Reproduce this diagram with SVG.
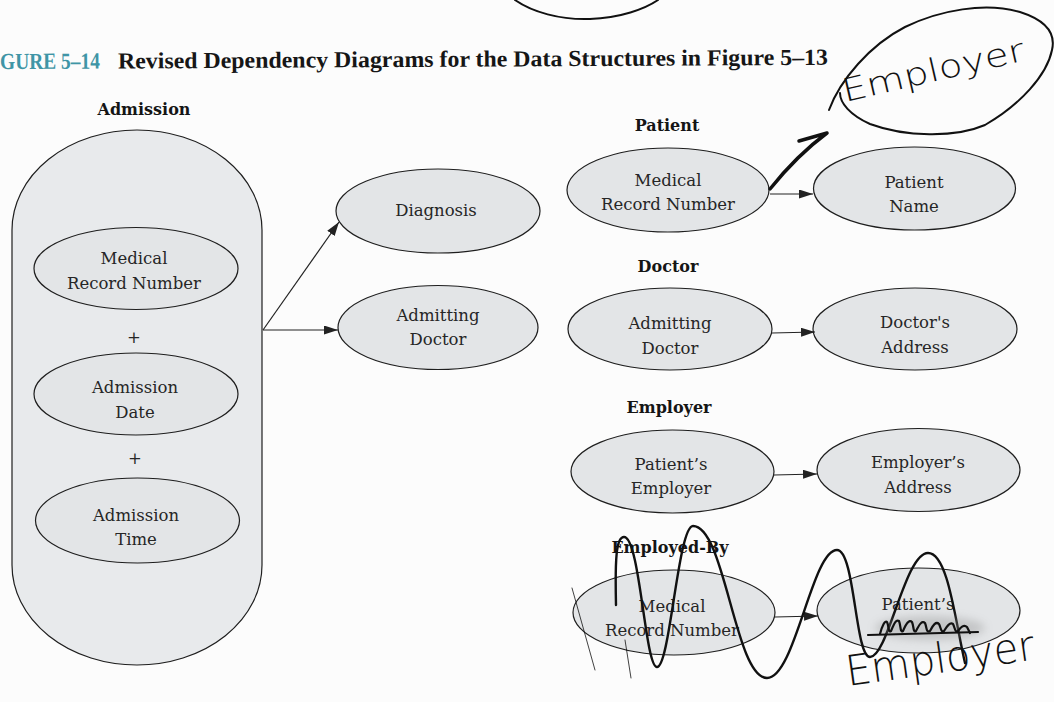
<svg xmlns="http://www.w3.org/2000/svg" width="1054" height="702" viewBox="0 0 1054 702">
  <defs>
    <style>
      .node { fill: #e3e5e7; stroke: #1e1e1e; stroke-width: 1.2; }
      .box { fill: #e8eaec; stroke: #1e1e1e; stroke-width: 1.2; }
      .t { font-family: "DejaVu Serif", "Liberation Serif", serif; font-size: 16.5px; fill: #262626; text-anchor: middle; }
      .lbl { font-family: "DejaVu Serif", "Liberation Serif", serif; font-size: 16px; font-weight: bold; fill: #151515; text-anchor: middle; }
      .title { font-family: "Liberation Serif", "DejaVu Serif", serif; font-size: 23px; font-weight: bold; fill: #161616; }
      .fig { fill: #3f95a6; }
      .edge { fill: none; stroke: #222; stroke-width: 1.2; }
      .ink { fill: none; stroke: #111; stroke-linecap: round; stroke-linejoin: round; }
      .hand { font-family: "DejaVu Sans", "Liberation Sans", sans-serif; font-weight: 200; fill: #111; }
    </style>
    <marker id="arrow" markerUnits="userSpaceOnUse" markerWidth="15" markerHeight="10" refX="14" refY="4.5" orient="auto">
      <path d="M0,0 L14,4.5 L0,9 z" fill="#222"/>
    </marker>
    <filter id="smudge" x="-30%" y="-80%" width="160%" height="260%">
      <feGaussianBlur stdDeviation="4"/>
    </filter>
  </defs>

  <rect width="1054" height="702" fill="#fcfcfc"/>

  <!-- caption -->
  <g id="caption">
    <text class="title" x="0" y="67" transform="rotate(-0.3 400 67)"><tspan class="fig" x="0" textLength="100" lengthAdjust="spacingAndGlyphs">GURE 5–14</tspan><tspan x="118" textLength="710" lengthAdjust="spacingAndGlyphs">Revised Dependency Diagrams for the Data Structures in Figure 5–13</tspan></text>
  </g>

  <!-- Admission: composite key -->
  <g id="admission">
    <text class="lbl" x="144" y="115">Admission</text>
    <path class="box" d="M12,230 A125,100 0 0 1 262,230 L262,565 A125,100 0 0 1 12,565 Z"/>
    <g id="adm-mrn">
      <ellipse class="node" cx="136" cy="268.5" rx="102" ry="41"/>
      <text class="t" x="134" y="264">Medical</text>
      <text class="t" x="134" y="289">Record Number</text>
    </g>
    <text class="t" x="134" y="343">+</text>
    <g id="adm-date">
      <ellipse class="node" cx="136" cy="394" rx="102" ry="41"/>
      <text class="t" x="135" y="393">Admission</text>
      <text class="t" x="135" y="418">Date</text>
    </g>
    <text class="t" x="135" y="464">+</text>
    <g id="adm-time">
      <ellipse class="node" cx="137.5" cy="520.5" rx="102" ry="42.5"/>
      <text class="t" x="136" y="521">Admission</text>
      <text class="t" x="136" y="545">Time</text>
    </g>
  </g>

  <g id="diagnosis">
    <ellipse class="node" cx="438" cy="211" rx="102" ry="42"/>
    <text class="t" x="436" y="216">Diagnosis</text>
  </g>

  <g id="adm-doctor">
    <ellipse class="node" cx="438" cy="327.5" rx="100" ry="42"/>
    <text class="t" x="438" y="321">Admitting</text>
    <text class="t" x="438" y="345">Doctor</text>
  </g>

  <!-- Patient -->
  <g id="patient">
    <text class="lbl" x="667" y="131">Patient</text>
    <g id="pat-mrn">
      <ellipse class="node" cx="668" cy="190" rx="101" ry="42"/>
      <text class="t" x="668" y="186">Medical</text>
      <text class="t" x="668" y="210">Record Number</text>
    </g>
    <g id="pat-name">
      <ellipse class="node" cx="914.5" cy="188.5" rx="101" ry="41.5"/>
      <text class="t" x="914" y="188">Patient</text>
      <text class="t" x="914" y="212">Name</text>
    </g>
  </g>

  <!-- Doctor -->
  <g id="doctor">
    <text class="lbl" x="668" y="272">Doctor</text>
    <g id="doc-key">
      <ellipse class="node" cx="670" cy="329" rx="102" ry="41"/>
      <text class="t" x="670" y="329">Admitting</text>
      <text class="t" x="670" y="354">Doctor</text>
    </g>
    <g id="doc-address">
      <ellipse class="node" cx="915" cy="329" rx="102" ry="41"/>
      <text class="t" x="915" y="328">Doctor's</text>
      <text class="t" x="915" y="353">Address</text>
    </g>
  </g>

  <!-- Employer -->
  <g id="employer">
    <text class="lbl" x="669" y="413">Employer</text>
    <g id="emp-key">
      <ellipse class="node" cx="672.5" cy="471.5" rx="101.5" ry="41.5"/>
      <text class="t" x="671" y="470">Patient’s</text>
      <text class="t" x="671" y="494">Employer</text>
    </g>
    <g id="emp-address">
      <ellipse class="node" cx="918.5" cy="470" rx="101.5" ry="41.5"/>
      <text class="t" x="918" y="468">Employer’s</text>
      <text class="t" x="918" y="493">Address</text>
    </g>
  </g>

  <!-- Employed-By -->
  <g id="employed-by">
    <text class="lbl" x="670" y="553">Employed-By</text>
    <g id="eb-mrn">
      <ellipse class="node" cx="674" cy="612.5" rx="101" ry="42.5"/>
      <text class="t" x="672" y="612">Medical</text>
      <text class="t" x="672" y="636">Record Number</text>
    </g>
    <g id="eb-employer">
      <ellipse class="node" cx="918.5" cy="610.5" rx="101.5" ry="42.5"/>
      <text class="t" x="918" y="610">Patient’s</text>
    </g>
  </g>

  <!-- dependency arrows -->
  <g id="connectors">
    <line class="edge" x1="263" y1="330" x2="339" y2="222" marker-end="url(#arrow)"/>
    <line class="edge" x1="263" y1="330" x2="338" y2="330" marker-end="url(#arrow)"/>
    <line class="edge" x1="770" y1="194" x2="813" y2="194" marker-end="url(#arrow)"/>
    <line class="edge" x1="772" y1="333" x2="815" y2="332" marker-end="url(#arrow)"/>
    <line class="edge" x1="774" y1="475" x2="817" y2="474" marker-end="url(#arrow)"/>
    <line class="edge" x1="775" y1="617" x2="818" y2="616" marker-end="url(#arrow)"/>
  </g>

  <!-- pen annotations -->
  <g id="annotations">
    <path class="ink" stroke-width="2" d="M515,0 C532,12 560,20 590,19 C620,18 645,9 658,0"/>
    <path class="ink" stroke-width="2" d="M829,110 C840,80 870,45 905,27 C940,10 985,2 1020,12 C1045,20 1056,33 1052,50 C1047,75 1020,105 985,125 C955,138 905,137 870,124 C850,115 840,103 840,93"/>
    <text class="hand" x="845" y="102" font-size="32" textLength="186" lengthAdjust="spacingAndGlyphs" transform="rotate(-13 845 102)">Employer</text>
    <path class="ink" stroke-width="3.5" d="M770,189 C782,174 800,153 827,133 M799,141 L827,133"/>

    <path class="ink" stroke-width="0.8" d="M572,588 L595,670 M625,640 L631,678"/>
    <path class="ink" stroke-width="2.4" d="M616,605 C615,560 616,537 624,537 C640,537 645,667 657,667 C670,667 678,526 693,526 C725,526 735,678 767,678 C795,678 812,550 837,550 C855,550 855,657 870,657 C888,657 905,553 928,553 C948,553 955,620 965,663"/>

    <ellipse cx="930" cy="628" rx="55" ry="12" fill="#8a8a8a" opacity="0.35" filter="url(#smudge)"/>
    <path class="ink" stroke-width="2.2" d="M880,634 C882,626 885,620 887,622 C889,626 888,633 891,631 C894,624 896,619 899,621 C901,626 900,633 903,631 C906,624 909,619 912,622 C914,627 913,633 916,631 C919,625 922,620 925,623 C927,628 926,633 930,631 C933,625 936,621 939,624 C941,628 941,633 944,631 C947,626 950,622 953,624 C955,628 955,633 958,631 C961,627 964,624 967,627 L970,633"/>
    <path class="ink" stroke-width="2.2" d="M868,635 L978,632"/>
    <text class="hand" x="848" y="686" font-size="42" textLength="190" lengthAdjust="spacingAndGlyphs" transform="rotate(-8 848 686)">Employer</text>
  </g>
</svg>
